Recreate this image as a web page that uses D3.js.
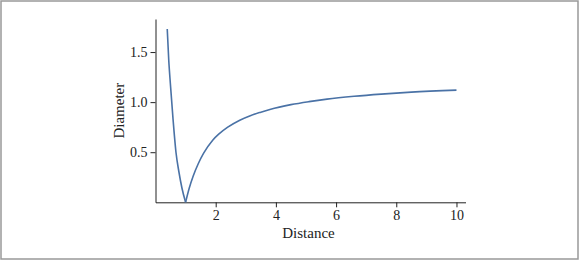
<!DOCTYPE html>
<html>
<head>
<meta charset="utf-8">
<script src="https://cdn.jsdelivr.net/npm/d3@7"></script>
<style>
  html, body { margin: 0; padding: 0; background: #fff; }
  svg { display: block; }
</style>
</head>
<body>
<script>
// Data
const distance = [0.39, 0.44, 0.50, 0.58, 0.68, 0.78, 0.88, 1.00, 1.12, 1.25, 1.42, 1.60, 1.90, 2.10, 2.40, 2.80, 3.15, 3.50, 3.80, 4.50, 5.10, 5.70, 6.60, 7.50, 8.50, 10.0];
const diameter = [1.73, 1.42, 1.16, 0.84, 0.50, 0.30, 0.14, 0.00, 0.14, 0.26, 0.385, 0.49, 0.62, 0.68, 0.75, 0.82, 0.865, 0.90, 0.927, 0.975, 1.005, 1.03, 1.058, 1.08, 1.10, 1.12];
const xTicks = [2, 4, 6, 8, 10];
const yTicks = [0.5, 1.0, 1.5];
const xTitle = "Distance";
const yTitle = "Diameter";

const W = 579, H = 260;
const FONT = '"Liberation Serif", "DejaVu Serif", serif';
const svg = d3.select("body").append("svg").attr("width", W).attr("height", H);

svg.append("rect")
  .attr("x", 1).attr("y", 1).attr("width", W - 2).attr("height", H - 2)
  .attr("fill", "#fff").attr("stroke", "#999").attr("stroke-width", 1.5);

const x = d3.scaleLinear().domain([0, 10.3]).range([155.5, 465.5]);
const y = d3.scaleLinear().domain([0, 1.83]).range([202.3, 19]);

const gx = svg.append("g")
  .attr("transform", `translate(0,${y(0)})`)
  .call(d3.axisBottom(x).tickValues(xTicks).tickFormat(d3.format("d")).tickSizeInner(5).tickSizeOuter(0).tickPadding(3));

const gy = svg.append("g")
  .attr("transform", `translate(${x(0)},0)`)
  .call(d3.axisLeft(y).tickValues(yTicks).tickFormat(d3.format(".1f")).tickSizeInner(5).tickSizeOuter(0).tickPadding(3));

[gx, gy].forEach(g => {
  g.selectAll("text")
    .style("font-family", FONT).style("font-size", "14px").style("fill", "#222");
  g.selectAll("path, line").attr("stroke", "#222");
});

const pts = distance.map((d, i) => [d, diameter[i]]);
const minIdx = d3.minIndex(diameter);
const branches = [pts.slice(0, minIdx + 1), pts.slice(minIdx)];
const line = d3.line().x(d => x(d[0])).y(d => y(d[1])).curve(d3.curveMonotoneX);

svg.selectAll("path.curve").data(branches).enter().append("path")
  .attr("class", "curve")
  .attr("d", line)
  .attr("fill", "none")
  .attr("stroke", "#4a72a6")
  .attr("stroke-width", 1.6)
  .attr("stroke-linejoin", "miter");

svg.append("text")
  .style("font-family", FONT).style("font-size", "15px").style("fill", "#222")
  .attr("x", (x.range()[0] + x.range()[1]) / 2 - 2).attr("y", 237.5)
  .attr("text-anchor", "middle").text(xTitle);

svg.append("text")
  .style("font-family", FONT).style("font-size", "15px").style("fill", "#222")
  .attr("transform", `translate(124,${(y.range()[0] + y.range()[1]) / 2}) rotate(-90)`)
  .attr("text-anchor", "middle").text(yTitle);
</script>
</body>
</html>
